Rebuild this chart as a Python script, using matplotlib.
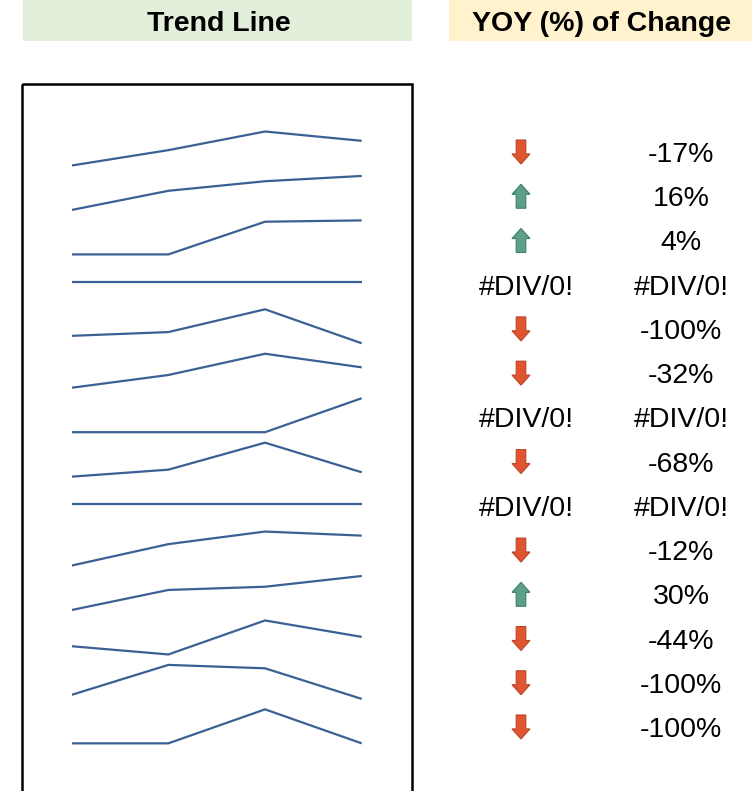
import matplotlib
matplotlib.use("Agg")
import matplotlib.pyplot as plt
from matplotlib.patches import Rectangle, Polygon

# Four consecutive periods for each of the 14 tracked items
period_1 = [38, 13, 0, 0, 22, 20, 0, 22, 0, 0, 35, 31, 12, 0]
period_2 = [66, 71, 0, 0, 33, 50, 0, 38, 0, 63, 91, 9, 100, 0]
period_3 = [100, 100, 100, 0, 100, 100, 0, 100, 0, 100, 100, 100, 90, 100]
period_4 = [83, 116, 104, 0, 0, 68, 100, 32, 0, 88, 130, 56, 0, 0]

header_trend = "Trend Line"
header_yoy = "YOY (%) of Change"
error_text = "#DIV/0!"

W, H = 752, 791
DPI = 100
LINE_COLOR = "#3B6094"
RED, RED_EDGE = "#E0552F", "#B9452A"
GREEN, GREEN_EDGE = "#5E9F89", "#3F7E6A"
FONT = ["Liberation Sans", "Arial", "DejaVu Sans"]


def yoy_change(prev, last):
    if prev == 0:
        return None
    return round((last / prev - 1) * 100)


fig = plt.figure(figsize=(W / DPI, H / DPI), dpi=DPI)
fig.patch.set_facecolor("white")

# pixel-space overlay for headers, frame, arrows and labels
ov = fig.add_axes([0, 0, 1, 1])
ov.set_xlim(0, W)
ov.set_ylim(H, 0)
ov.axis("off")

# header cells
ov.add_patch(Rectangle((23, 0), 389, 40.7, facecolor="#E2EFDA", edgecolor="none"))
ov.add_patch(Rectangle((449, 0), 303, 40.7, facecolor="#FFF2CC", edgecolor="none"))
ov.text(218.5, 30.7, header_trend, ha="center", va="baseline",
        fontsize=20.5, fontweight="bold", family=FONT)
ov.text(602, 30.7, header_yoy, ha="center", va="baseline",
        fontsize=20.5, fontweight="bold", family=FONT)

# frame around the sparkline block (bottom edge runs past the canvas)
ov.add_patch(Rectangle((22.3, 84.3), 390, 800, facecolor="none",
                       edgecolor="black", linewidth=1.8, clip_on=False))

n_rows = len(period_1)
spark_top, spark_pitch = 148.5, 44.45
text_top, text_pitch = 152.0, 44.23
span_px = 34.0
cell_px = 44.0
x_left, x_right = 71.7, 361.7


def add_arrow(cx, cy, up, w=18.0, h=24.0):
    shaft = 4.8
    head = w / 2
    top = cy - h / 2
    bot = cy + h / 2
    if up:
        split = top + 0.42 * h
        pts = [(cx, top), (cx + head, split), (cx + shaft, split), (cx + shaft, bot),
               (cx - shaft, bot), (cx - shaft, split), (cx - head, split)]
        fc, ec = GREEN, GREEN_EDGE
    else:
        split = bot - 0.42 * h
        pts = [(cx - shaft, top), (cx + shaft, top), (cx + shaft, split), (cx + head, split),
               (cx, bot), (cx - head, split), (cx - shaft, split)]
        fc, ec = RED, RED_EDGE
    ov.add_patch(Polygon(pts, closed=True, facecolor=fc, edgecolor=ec, linewidth=0.8))


for i in range(n_rows):
    vals = [period_1[i], period_2[i], period_3[i], period_4[i]]

    # sparkline in its own axes, auto-scaled per row
    cy = spark_top + spark_pitch * i
    ax = fig.add_axes([x_left / W, 1 - (cy + cell_px / 2) / H,
                       (x_right - x_left) / W, cell_px / H])
    ax.axis("off")
    ax.set_xlim(0, 3)
    lo, hi = min(vals), max(vals)
    if hi == lo:
        ax.set_ylim(lo - 1, hi + 1)
    else:
        pad = (hi - lo) * (cell_px / span_px - 1) / 2
        ax.set_ylim(lo - pad, hi + pad)
    ax.plot(range(4), vals, color=LINE_COLOR, linewidth=1.6,
            solid_capstyle="butt", solid_joinstyle="miter")

    # year-over-year change: icon + percentage
    ty = text_top + text_pitch * i
    change = yoy_change(vals[2], vals[3])
    if change is None:
        ov.text(526.5, ty + 10, error_text, ha="center", va="baseline",
                fontsize=20.5, family=FONT)
        ov.text(681.5, ty + 10, error_text, ha="center", va="baseline",
                fontsize=20.5, family=FONT)
    else:
        add_arrow(521, ty, up=change > 0)
        ov.text(681, ty + 10, f"{change}%", ha="center", va="baseline",
                fontsize=20.5, family=FONT)

fig.savefig("out.png", dpi=DPI)
